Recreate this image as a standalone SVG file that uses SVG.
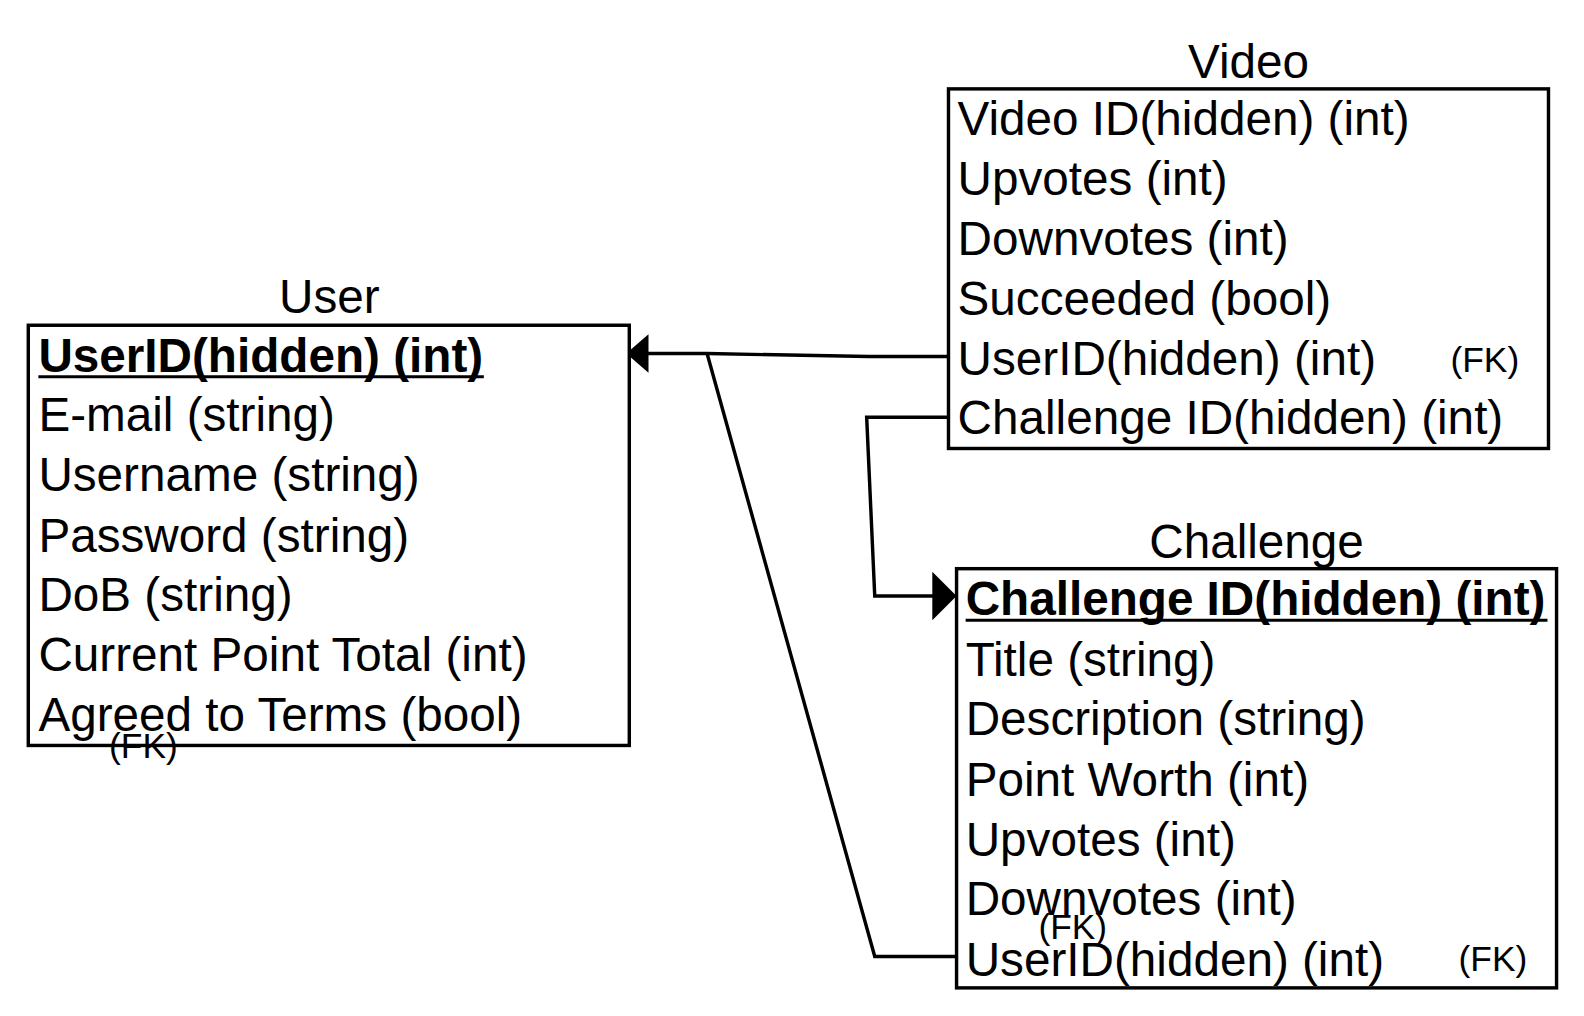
<svg xmlns="http://www.w3.org/2000/svg" width="1584" height="1016" viewBox="0 0 1584 1016">
<style>
.box{fill:#fff;stroke:#000;stroke-width:3.4}
.t{font-family:"Liberation Sans",Arial,sans-serif;font-size:47.2px;fill:#000}
.b{font-weight:bold}
.ul{stroke:#000;stroke-width:3}
.ttl{text-anchor:middle}
.fk{font-family:"Liberation Sans",Arial,sans-serif;font-size:35px;fill:#000}
.c{fill:none;stroke:#000;stroke-width:3.4}
</style>
<rect width="1584" height="1016" fill="#fff"/>
<g transform="scale(1.0101)">
<g id="connectors">
<polyline class="c" points="939,353 860,353 700,350 640,350"/>
<polygon points="620,350 642,331 642,369" fill="#000"/>
<polyline class="c" points="700,350 866,947 947,947"/>
<polyline class="c" points="939,413 858,413 866,590 925,590"/>
<polygon points="947,590 923,566 923,614" fill="#000"/>
</g>
<g id="user">
<text class="t ttl" x="326" y="310">User</text>
<rect class="box" x="28" y="322" width="595" height="416"/>
<text class="t b" x="38" y="368">UserID(hidden) (int)</text>
<line class="ul" x1="38" y1="373" x2="479" y2="373"/>
<text class="t" x="38" y="427">E-mail (string)</text>
<text class="t" x="38" y="486">Username (string)</text>
<text class="t" x="38" y="546">Password (string)</text>
<text class="t" x="38" y="605">DoB (string)</text>
<text class="t" x="38" y="664">Current Point Total (int)</text>
<text class="t" x="38" y="724">Agreed to Terms (bool)</text>
<text class="fk" x="108" y="750">(FK)</text>
</g>
<g id="video">
<text class="t ttl" x="1236" y="77">Video</text>
<rect class="box" x="939" y="88" width="594" height="356"/>
<text class="t" x="948" y="134">Video ID(hidden) (int)</text>
<text class="t" x="948" y="193">Upvotes (int)</text>
<text class="t" x="948" y="252">Downvotes (int)</text>
<text class="t" x="948" y="312">Succeeded (bool)</text>
<text class="t" x="948" y="371">UserID(hidden) (int)</text>
<text class="fk" x="1436" y="368">(FK)</text>
<text class="t" x="948" y="430">Challenge ID(hidden) (int)</text>
</g>
<g id="challenge">
<text class="t ttl" x="1244" y="552">Challenge</text>
<rect class="box" x="947" y="563" width="594" height="415"/>
<text class="t b" x="956" y="609">Challenge ID(hidden) (int)</text>
<line class="ul" x1="956" y1="614" x2="1532" y2="614"/>
<text class="t" x="956" y="669">Title (string)</text>
<text class="t" x="956" y="728">Description (string)</text>
<text class="t" x="956" y="788">Point Worth (int)</text>
<text class="t" x="956" y="847">Upvotes (int)</text>
<text class="t" x="956" y="906">Downvotes (int)</text>
<text class="fk" x="1028" y="930">(FK)</text>
<text class="t" x="956" y="966">UserID(hidden) (int)</text>
<text class="fk" x="1444" y="961">(FK)</text>
</g>
</g>
</svg>
